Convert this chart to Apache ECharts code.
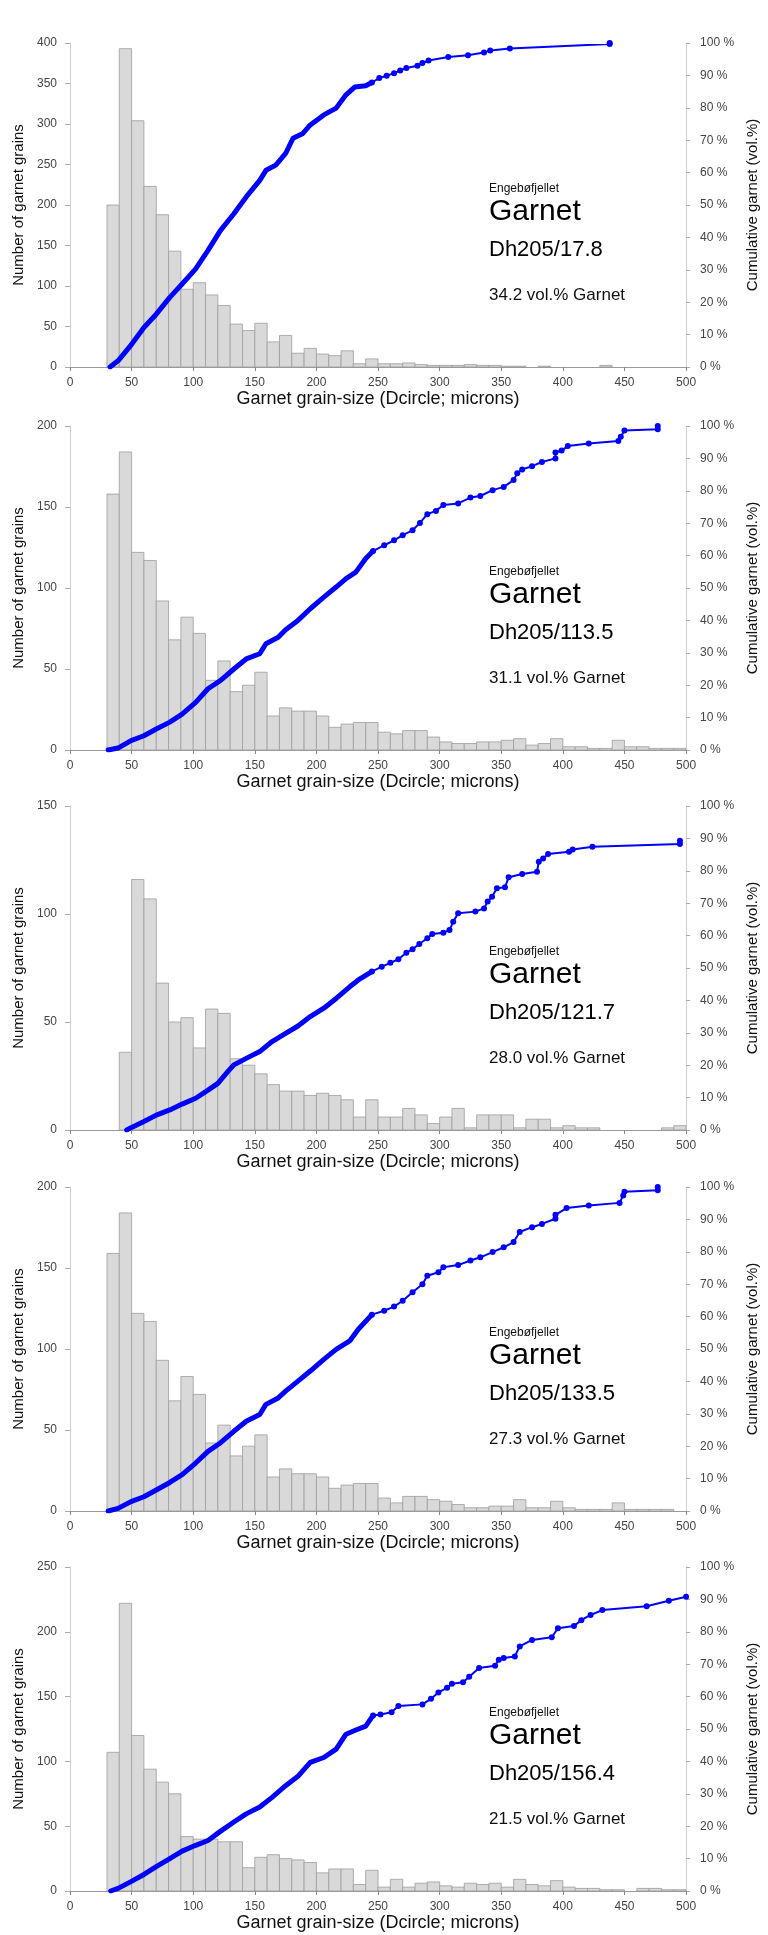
<!DOCTYPE html>
<html>
<head>
<meta charset="utf-8">
<script src="https://cdn.jsdelivr.net/npm/echarts@6/dist/echarts.min.js"></script>
<style>
  html, body { margin: 0; padding: 0; background: #fff; }
  #chart { width: 768px; height: 1935px; }
</style>
</head>
<body>
<div id="chart"></div>
<script>
// histogram bins (left edge, microns), 10 micron wide
const binLefts = [30, 40, 50, 60, 70, 80, 90, 100, 110, 120, 130, 140, 150, 160, 170, 180, 190,
  200, 210, 220, 230, 240, 250, 260, 270, 280, 290, 300, 310, 320, 330, 340, 350, 360, 370, 380,
  390, 400, 410, 420, 430, 440, 450, 460, 470, 480, 490];

const counts1 = [200, 393, 304, 223, 188, 143, 96, 104, 89, 76, 53, 45, 54, 31, 39, 17, 23,
  16, 14, 20, 4, 10, 4, 4, 5, 3, 2, 2, 2, 3, 2, 2, 1, 1, 0, 1,
  0, 0, 0, 0, 2, 0, 0, 0, 0, 0, 0];
const counts2 = [158, 184, 122, 117, 92, 68, 82, 72, 43, 55, 36, 40, 48, 21, 26, 24, 24,
  21, 14, 16, 17, 17, 11, 10, 12, 12, 8, 5, 4, 4, 5, 5, 6, 7, 3, 4,
  7, 2, 2, 1, 1, 6, 2, 2, 1, 1, 1];
const counts3 = [0, 36, 116, 107, 68, 50, 52, 38, 56, 54, 33, 30, 26, 21, 18, 18, 16,
  17, 16, 14, 6, 14, 6, 6, 10, 7, 3, 6, 10, 1, 7, 7, 7, 1, 5, 5,
  1, 2, 1, 1, 0, 0, 0, 0, 0, 1, 2];
const counts4 = [159, 184, 122, 117, 93, 68, 83, 72, 42, 53, 34, 40, 47, 21, 26, 23, 23,
  21, 14, 16, 17, 17, 8, 5, 9, 9, 7, 6, 4, 2, 2, 3, 3, 7, 2, 2,
  6, 2, 1, 1, 1, 5, 1, 1, 1, 1, 0];
const counts5 = [107, 222, 120, 94, 84, 75, 42, 40, 40, 38, 38, 18, 26, 28, 25, 24, 22,
  14, 17, 17, 5, 16, 3, 9, 3, 6, 7, 4, 3, 6, 5, 6, 3, 9, 5, 4,
  8, 3, 2, 2, 1, 1, 0, 2, 2, 1, 1];

// cumulative garnet volume, [grain size, %]
const cum1 = [[32.5, 0], [39, 1.9], [50, 7], [60, 12.2], [70, 16.3], [81, 21.5], [91, 25.6],
  [102, 30.3], [112, 36], [122, 42.1], [133, 47.3], [143, 52.5], [154, 57.6], [159, 60.7],
  [167, 62.3], [175, 65.9], [181, 70.6], [189, 72.1], [195, 74.7], [206, 77.8], [216, 79.9],
  [224, 84], [231, 86.4], [240, 86.8], [245, 87.8], [251, 89.2], [257, 89.9], [263, 90.7],
  [268, 91.5], [273, 92.3], [282, 93], [286, 93.8], [291, 94.6], [307, 95.7], [323, 96.2],
  [336, 97.1], [341, 97.7], [357, 98.3], [438, 99.7], [438, 100]];
const cum2 = [[31, 0], [39, 0.6], [49.5, 2.9], [60, 4.4], [70, 6.5], [81, 8.6], [91, 11.1],
  [102, 14.7], [112, 18.9], [122, 21.4], [133, 25], [143, 28.1], [154, 29.7], [159, 32.8],
  [169, 34.8], [175, 37.1], [185, 40], [195, 43.6], [206, 47.2], [216, 50.3], [224, 52.9],
  [232, 54.9], [240, 59.1], [246, 61.4], [255, 63.2], [263, 64.7], [270, 66.3], [278, 67.8],
  [284, 70.1], [290, 72.8], [297, 73.8], [303, 75.6], [315, 76.1], [325, 77.9], [333, 78.4],
  [343, 80.2], [352, 81.2], [360, 83.3], [363, 85.4], [367, 86.6], [375, 87.6], [383, 88.9],
  [394, 90], [394, 91.8], [399, 92.4], [404, 93.8], [421, 94.6], [445, 95.4], [447, 96.7],
  [450, 98.6], [477, 99], [477, 100]];
const cum3 = [[46, 0], [50, 0.8], [60, 2.6], [70, 4.6], [81, 6.2], [91, 8], [102, 9.8],
  [112, 12.3], [120, 14.4], [128, 18], [133, 20.1], [143, 22.1], [154, 24.2], [164, 27.3],
  [175, 29.8], [185, 32.1], [195, 35], [206, 37.6], [216, 40.6], [227, 44.2], [234, 46.3],
  [245, 48.9], [253, 50.4], [260, 51.6], [266.5, 52.7], [273, 54.7], [278, 55.8], [283.5, 57.4],
  [290, 59.2], [294, 60.5], [303, 60.9], [308, 61.7], [311, 64.3], [315, 66.9], [329, 67.4],
  [336, 68.4], [339, 70.5], [342.5, 72], [346.5, 74.6], [353, 74.9], [356, 78], [367, 79],
  [379, 79.7], [380.5, 82.8], [384, 83.8], [388, 85.2], [405, 85.9], [408, 86.6], [424, 87.4],
  [495, 88.3], [495, 89.3]];
const cum4 = [[31, 0], [39, 0.8], [49.5, 2.9], [60, 4.4], [70, 6.5], [81, 8.8], [91, 11.2],
  [102, 14.8], [112, 18.4], [122, 21], [133, 24.6], [143, 27.7], [154, 29.8], [159, 32.9],
  [169, 34.9], [175, 37], [185, 40.1], [195, 43.2], [206, 46.8], [216, 49.9], [227, 52.5],
  [234, 56.1], [245, 60.6], [255, 61.8], [263, 63.1], [270, 64.9], [278, 67.5], [286, 70],
  [290, 72.6], [299, 73.7], [303, 75.2], [315, 75.9], [325, 77.3], [333, 78.3], [343, 79.9],
  [352, 81.4], [360, 83], [365, 86.1], [375, 87.6], [383, 88.6], [394, 90.2], [394, 91.4],
  [403, 93.5], [421, 94.3], [446, 95.1], [449, 97.4], [450, 98.5], [477, 99], [477, 100]];
const cum5 = [[33, 0], [39, 0.8], [49.5, 2.9], [60, 5.1], [70, 7.5], [81, 10], [91, 12.3],
  [102, 14.1], [112, 15.6], [122, 18.4], [133, 21.3], [143, 23.8], [154, 25.9], [164, 28.9],
  [175, 32.5], [185, 35.4], [195, 39.7], [206, 41.2], [216, 43.8], [224, 48.4], [232, 49.7],
  [240, 50.9], [246, 54.2], [252, 54.5], [261, 55.2], [266.5, 57.1], [286, 57.6], [293, 59.3],
  [299, 61.3], [306, 62.7], [310, 64], [319, 64.4], [324, 66.1], [332, 68.8], [345, 69.5],
  [348, 71.4], [352, 71.9], [361, 72.4], [365, 75.5], [375, 77.5], [391, 78.3], [396, 81.1],
  [409, 81.8], [415, 83.6], [422.5, 85.2], [432, 86.7], [468, 87.9], [486, 89.6], [500, 90.8]];

const leftMax = [400, 200, 150, 200, 250];
const sampleNames = ["Dh205/17.8", "Dh205/113.5", "Dh205/121.7", "Dh205/133.5", "Dh205/156.4"];
const garnetVol = ["34.2", "31.1", "28.0", "27.3", "21.5"];

const countSets = [counts1, counts2, counts3, counts4, counts5];
const cumSets = [cum1, cum2, cum3, cum4, cum5];

const BIN_WIDTH = 10;
const DENSE_LIMIT = 246; // points closer than this merge into a thick line
const gridTops = [43, 426, 806, 1187, 1567];
const GRID_LEFT = 70;
const GRID_WIDTH = 636;
const GRID_HEIGHT = 324;
const FONT = '"Liberation Sans", Arial, sans-serif';
const BLUE = "#0000ff";

const chart = echarts.init(document.getElementById("chart"));

const grid = [];
const xAxis = [];
const yAxis = [];
const series = [];
const graphic = [];

gridTops.forEach((top, i) => {
  grid.push({ left: GRID_LEFT, top: top, width: GRID_WIDTH, height: GRID_HEIGHT });

  xAxis.push({
    type: "value",
    gridIndex: i,
    min: 0,
    max: 500,
    interval: 50,
    name: "Garnet grain-size (Dcircle; microns)",
    nameLocation: "middle",
    nameGap: 20,
    nameTextStyle: { fontSize: 18, color: "#111", fontFamily: FONT },
    axisLine: { lineStyle: { color: "#9a9a9a", width: 1 } },
    axisTick: { show: true, length: 4, lineStyle: { color: "#888" } },
    axisLabel: { fontSize: 12, color: "#444", margin: 10, fontFamily: FONT },
    splitLine: { show: false },
  });

  yAxis.push({
    type: "value",
    gridIndex: i,
    position: "left",
    min: 0,
    max: leftMax[i],
    interval: 50,
    name: "Number of garnet grains",
    nameLocation: "middle",
    nameGap: 44,
    nameTextStyle: { fontSize: 15, color: "#111", fontFamily: FONT },
    axisLine: { show: true, lineStyle: { color: "#cfcfcf" } },
    axisTick: { show: true, length: 5, lineStyle: { color: "#aaa" } },
    axisLabel: { fontSize: 12, color: "#444", margin: 13, fontFamily: FONT },
    splitLine: { show: false },
  });

  yAxis.push({
    type: "value",
    gridIndex: i,
    position: "right",
    min: 0,
    max: 100,
    interval: 10,
    name: "Cumulative garnet (vol.%)",
    nameLocation: "middle",
    nameGap: 46,
    nameTextStyle: { fontSize: 15, color: "#111", fontFamily: FONT },
    axisLine: { show: true, lineStyle: { color: "#cfcfcf" } },
    axisTick: { show: true, length: 4, lineStyle: { color: "#aaa" } },
    axisLabel: { fontSize: 12, color: "#444", margin: 14, fontFamily: FONT, formatter: "{value} %" },
    splitLine: { show: false },
  });

  // histogram
  series.push({
    type: "custom",
    xAxisIndex: i,
    yAxisIndex: i * 2,
    z: 1,
    data: binLefts.map((b, k) => [b, countSets[i][k]]),
    encode: { x: 0, y: 1 },
    renderItem: (params, api) => {
      const x0 = api.value(0);
      const v = api.value(1);
      if (!v) return null;
      const p0 = api.coord([x0, 0]);
      const p1 = api.coord([x0 + BIN_WIDTH, v]);
      return {
        type: "rect",
        shape: { x: p0[0], y: p1[1], width: p1[0] - p0[0], height: p0[1] - p1[1] },
        style: { fill: "#d9d9d9", stroke: "#9d9d9d", lineWidth: 0.8 },
      };
    },
  });

  // cumulative curve: dense part drawn thick, sparse tail with visible dots
  const cum = cumSets[i];
  const dense = cum.filter((p) => p[0] <= DENSE_LIMIT);
  const tail = cum.filter((p) => p[0] >= dense[dense.length - 1][0]);
  series.push({
    type: "line",
    xAxisIndex: i,
    yAxisIndex: i * 2 + 1,
    z: 3,
    data: dense,
    showSymbol: false,
    symbol: "none",
    lineStyle: { color: BLUE, width: 5, cap: "round", join: "round" },
    silent: true,
  });
  series.push({
    type: "line",
    xAxisIndex: i,
    yAxisIndex: i * 2 + 1,
    z: 4,
    data: tail,
    symbol: "circle",
    symbolSize: 6,
    showAllSymbol: true,
    itemStyle: { color: BLUE },
    lineStyle: { color: BLUE, width: 2 },
    silent: true,
  });

  // annotation text
  const tx = 489;
  graphic.push(
    { type: "text", x: tx, y: top + 146, style: { text: "Engebøfjellet", fontSize: 12, fontFamily: FONT, fill: "#111", verticalAlign: "middle" } },
    { type: "text", x: tx, y: top + 169, style: { text: "Garnet", fontSize: 30, fontFamily: FONT, fill: "#000", verticalAlign: "middle" } },
    { type: "text", x: tx, y: top + 207, style: { text: sampleNames[i], fontSize: 22, fontFamily: FONT, fill: "#000", verticalAlign: "middle" } },
    { type: "text", x: tx, y: top + 252, style: { text: garnetVol[i] + " vol.% Garnet", fontSize: 17, fontFamily: FONT, fill: "#111", verticalAlign: "middle" } }
  );
});

chart.setOption({
  animation: false,
  backgroundColor: "#fff",
  textStyle: { fontFamily: FONT },
  grid,
  xAxis,
  yAxis,
  series,
  graphic,
});
</script>
</body>
</html>
